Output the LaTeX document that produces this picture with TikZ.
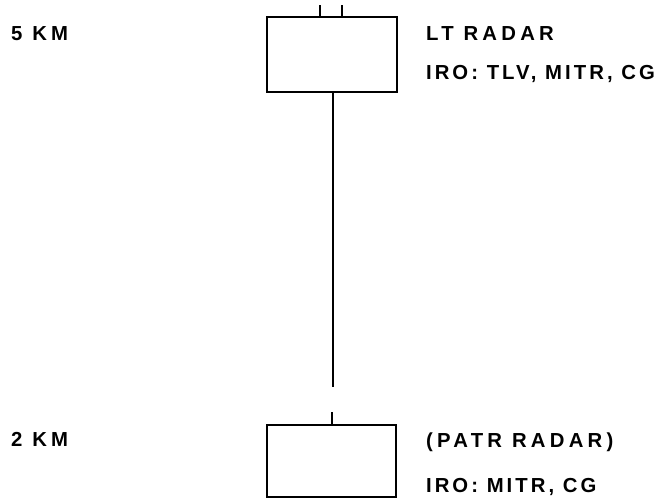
\documentclass[tikz,border=0pt]{standalone}
\usepackage{fontspec}
\setmainfont{Liberation Sans}
\newfontfamily\wideface[LetterSpace=21]{Liberation Sans}
\newfontfamily\closeface[LetterSpace=15]{Liberation Sans}
\usetikzlibrary{positioning}
\tikzset{every picture/.style={line width=2.2pt},
  radarbox/.style={draw, rectangle, inner sep=0pt},
  legend/.style={anchor=base west, inner sep=0pt,
    font=\fontsize{20.3}{20}\wideface\bfseries},
  ironote/.style={legend, font=\fontsize{20.3}{20}\closeface\bfseries}}

\begin{document}
\begin{tikzpicture}[x=1pt,y=-1pt]
    \useasboundingbox (0,0) rectangle (661,498);
    % upper radar with two feeds
    \node[radarbox, minimum width=130pt, minimum height=75pt] (ltbox) at (332,54.5) {};
    \coordinate (feedA) at (320,5);
    \coordinate (feedB) at (342,5);
    \draw (ltbox.north -| feedA) -- (feedA);
    \draw (ltbox.north -| feedB) -- (feedB);
    \node[legend] (kmfive) at (10,40) {5 KM};
    \node[legend] (ltname) at (425,40) {LT RADAR};
    \node[ironote] (ltiro) at (425,79) {IRO: TLV, MITR, CG};
    % lower radar
    \node[radarbox, minimum width=129pt, minimum height=72pt] (patrbox) at (331.5,461) {};
    \node[legend] (kmtwo) at (10,446) {2 KM};
    \node[legend] (patrname) at (425,447) {(PATR RADAR)};
    \node[ironote] (patriro) at (425,492) {IRO: MITR, CG};
    % link, broken above the lower box
    \coordinate (breakup) at (333,387);
    \coordinate (breakdown) at (332,412);
    \draw (ltbox.south -| breakup) -- (breakup);
    \draw (breakdown) -- (breakdown |- patrbox.north);
\end{tikzpicture}
\end{document}
